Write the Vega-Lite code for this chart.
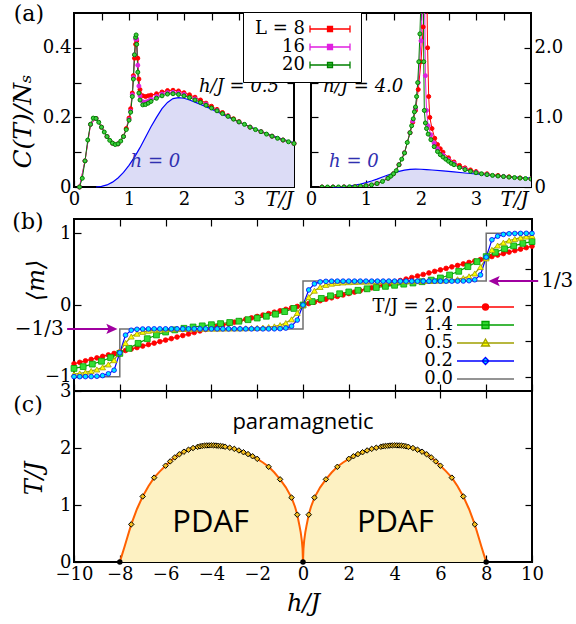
{
"$schema":"https://vega.github.io/schema/vega-lite/v6.json",
"background":"white",
"padding":{"left":9,"top":1,"right":0,"bottom":0},
"config":{
 "view":{"stroke":"black","strokeWidth":2},
 "axis":{"domain":false,"grid":false,"ticks":true,"tickSize":-7,"tickColor":"black","tickWidth":1.2,"labelFont":"DejaVu Serif","labelFontSize":18,"labelColor":"black","labelPadding":10,"labelFlush":false,"labelOverlap":false,"labelBound":false,"titleFont":"DejaVu Serif","titleFontStyle":"italic","titleFontWeight":"normal","titleColor":"black","titleFontSize":22},
 "legend":{"labelFont":"DejaVu Serif","labelFontSize":18,"labelColor":"black"},
 "text":{"font":"DejaVu Serif","fontSize":19,"color":"black"}
},
"datasets":{
 "h0":[{"T":0.4,"C":0},{"T":0.5,"C":0.002},{"T":0.6,"C":0.006},{"T":0.7,"C":0.014},{"T":0.8,"C":0.026},{"T":0.9,"C":0.042},{"T":1.0,"C":0.062},{"T":1.1,"C":0.086},{"T":1.2,"C":0.113},{"T":1.3,"C":0.143},{"T":1.4,"C":0.173},{"T":1.5,"C":0.2},{"T":1.6,"C":0.225},{"T":1.7,"C":0.243},{"T":1.8,"C":0.254},{"T":1.9,"C":0.257},{"T":2.0,"C":0.255},{"T":2.1,"C":0.25},{"T":2.2,"C":0.244},{"T":2.4,"C":0.231},{"T":2.6,"C":0.216},{"T":2.8,"C":0.201},{"T":3.0,"C":0.187},{"T":3.2,"C":0.173},{"T":3.4,"C":0.16},{"T":3.6,"C":0.148},{"T":3.8,"C":0.137},{"T":4.0,"C":0.127}],
 "a05":[
{"L":"8","T":0.1,"C":0},{"L":"8","T":0.2,"C":0.075},{"L":"8","T":0.3,"C":0.18},{"L":"8","T":0.4,"C":0.197},{"L":"8","T":0.5,"C":0.172},{"L":"8","T":0.6,"C":0.145},{"L":"8","T":0.7,"C":0.126},{"L":"8","T":0.8,"C":0.124},{"L":"8","T":0.9,"C":0.146},{"L":"8","T":0.95,"C":0.168},{"L":"8","T":1.0,"C":0.198},{"L":"8","T":1.03,"C":0.225},{"L":"8","T":1.06,"C":0.27},{"L":"8","T":1.08,"C":0.32},{"L":"8","T":1.1,"C":0.37},{"L":"8","T":1.12,"C":0.41},{"L":"8","T":1.14,"C":0.42},{"L":"8","T":1.16,"C":0.37},{"L":"8","T":1.18,"C":0.31},{"L":"8","T":1.2,"C":0.28},{"L":"8","T":1.25,"C":0.262},{"L":"8","T":1.3,"C":0.26},{"L":"8","T":1.35,"C":0.262},{"L":"8","T":1.4,"C":0.264},{"L":"8","T":1.5,"C":0.268},{"L":"8","T":1.6,"C":0.273},{"L":"8","T":1.7,"C":0.277},{"L":"8","T":1.8,"C":0.278},{"L":"8","T":1.9,"C":0.276},{"L":"8","T":2.0,"C":0.271},{"L":"8","T":2.1,"C":0.265},{"L":"8","T":2.2,"C":0.258},{"L":"8","T":2.3,"C":0.25},{"L":"8","T":2.4,"C":0.241},{"L":"8","T":2.5,"C":0.232},{"L":"8","T":2.6,"C":0.223},{"L":"8","T":2.7,"C":0.214},{"L":"8","T":2.8,"C":0.205},{"L":"8","T":2.9,"C":0.196},{"L":"8","T":3.0,"C":0.188},{"L":"8","T":3.2,"C":0.172},{"L":"8","T":3.4,"C":0.159},{"L":"8","T":3.6,"C":0.146},{"L":"8","T":3.8,"C":0.135},{"L":"8","T":4.0,"C":0.125},
{"L":"16","T":0.1,"C":0},{"L":"16","T":0.2,"C":0.075},{"L":"16","T":0.3,"C":0.18},{"L":"16","T":0.4,"C":0.197},{"L":"16","T":0.5,"C":0.172},{"L":"16","T":0.6,"C":0.145},{"L":"16","T":0.7,"C":0.126},{"L":"16","T":0.8,"C":0.124},{"L":"16","T":0.9,"C":0.145},{"L":"16","T":1.0,"C":0.194},{"L":"16","T":1.03,"C":0.218},{"L":"16","T":1.06,"C":0.265},{"L":"16","T":1.08,"C":0.315},{"L":"16","T":1.1,"C":0.38},{"L":"16","T":1.12,"C":0.425},{"L":"16","T":1.14,"C":0.425},{"L":"16","T":1.16,"C":0.35},{"L":"16","T":1.18,"C":0.29},{"L":"16","T":1.2,"C":0.262},{"L":"16","T":1.25,"C":0.245},{"L":"16","T":1.3,"C":0.244},{"L":"16","T":1.35,"C":0.247},{"L":"16","T":1.4,"C":0.252},{"L":"16","T":1.5,"C":0.26},{"L":"16","T":1.6,"C":0.267},{"L":"16","T":1.7,"C":0.271},{"L":"16","T":1.8,"C":0.272},{"L":"16","T":1.9,"C":0.27},{"L":"16","T":2.0,"C":0.266},{"L":"16","T":2.2,"C":0.253},{"L":"16","T":2.4,"C":0.238},{"L":"16","T":2.6,"C":0.22},{"L":"16","T":2.8,"C":0.204},{"L":"16","T":3.0,"C":0.187},{"L":"16","T":3.2,"C":0.172},{"L":"16","T":3.4,"C":0.159},{"L":"16","T":3.6,"C":0.146},{"L":"16","T":3.8,"C":0.135},{"L":"16","T":4.0,"C":0.125},
{"L":"20","T":0.1,"C":0},{"L":"20","T":0.15,"C":0.025},{"L":"20","T":0.2,"C":0.075},{"L":"20","T":0.25,"C":0.135},{"L":"20","T":0.3,"C":0.18},{"L":"20","T":0.35,"C":0.198},{"L":"20","T":0.4,"C":0.197},{"L":"20","T":0.45,"C":0.186},{"L":"20","T":0.5,"C":0.172},{"L":"20","T":0.55,"C":0.158},{"L":"20","T":0.6,"C":0.145},{"L":"20","T":0.65,"C":0.134},{"L":"20","T":0.7,"C":0.126},{"L":"20","T":0.75,"C":0.122},{"L":"20","T":0.8,"C":0.124},{"L":"20","T":0.85,"C":0.132},{"L":"20","T":0.9,"C":0.145},{"L":"20","T":0.95,"C":0.165},{"L":"20","T":1.0,"C":0.192},{"L":"20","T":1.03,"C":0.215},{"L":"20","T":1.06,"C":0.26},{"L":"20","T":1.08,"C":0.31},{"L":"20","T":1.1,"C":0.38},{"L":"20","T":1.12,"C":0.43},{"L":"20","T":1.13,"C":0.437},{"L":"20","T":1.14,"C":0.41},{"L":"20","T":1.16,"C":0.33},{"L":"20","T":1.18,"C":0.27},{"L":"20","T":1.2,"C":0.25},{"L":"20","T":1.25,"C":0.236},{"L":"20","T":1.3,"C":0.237},{"L":"20","T":1.35,"C":0.241},{"L":"20","T":1.4,"C":0.246},{"L":"20","T":1.5,"C":0.255},{"L":"20","T":1.6,"C":0.262},{"L":"20","T":1.7,"C":0.267},{"L":"20","T":1.8,"C":0.268},{"L":"20","T":1.9,"C":0.266},{"L":"20","T":2.0,"C":0.262},{"L":"20","T":2.1,"C":0.257},{"L":"20","T":2.2,"C":0.25},{"L":"20","T":2.3,"C":0.243},{"L":"20","T":2.4,"C":0.235},{"L":"20","T":2.5,"C":0.227},{"L":"20","T":2.6,"C":0.219},{"L":"20","T":2.7,"C":0.211},{"L":"20","T":2.8,"C":0.203},{"L":"20","T":2.9,"C":0.195},{"L":"20","T":3.0,"C":0.187},{"L":"20","T":3.1,"C":0.18},{"L":"20","T":3.2,"C":0.172},{"L":"20","T":3.3,"C":0.165},{"L":"20","T":3.4,"C":0.159},{"L":"20","T":3.5,"C":0.152},{"L":"20","T":3.6,"C":0.146},{"L":"20","T":3.7,"C":0.14},{"L":"20","T":3.8,"C":0.135},{"L":"20","T":3.9,"C":0.13},{"L":"20","T":4.0,"C":0.125}],
 "a40":[
{"L":"8","T":0.2,"C":0},{"L":"8","T":0.4,"C":0},{"L":"8","T":0.6,"C":0.001},{"L":"8","T":0.8,"C":0.005},{"L":"8","T":1.0,"C":0.018},{"L":"8","T":1.2,"C":0.05},{"L":"8","T":1.4,"C":0.125},{"L":"8","T":1.5,"C":0.19},{"L":"8","T":1.6,"C":0.32},{"L":"8","T":1.7,"C":0.49},{"L":"8","T":1.8,"C":0.78},{"L":"8","T":1.85,"C":0.93},{"L":"8","T":1.9,"C":1.1},{"L":"8","T":1.95,"C":1.4},{"L":"8","T":2.0,"C":1.8},{"L":"8","T":2.04,"C":2.3},{"L":"8","T":2.07,"C":2.8},{"L":"8","T":2.1,"C":3.2},{"L":"8","T":2.12,"C":2.0},{"L":"8","T":2.14,"C":1.3},{"L":"8","T":2.16,"C":1.0},{"L":"8","T":2.2,"C":0.84},{"L":"8","T":2.25,"C":0.7},{"L":"8","T":2.3,"C":0.61},{"L":"8","T":2.35,"C":0.55},{"L":"8","T":2.4,"C":0.5},{"L":"8","T":2.5,"C":0.42},{"L":"8","T":2.6,"C":0.36},{"L":"8","T":2.7,"C":0.31},{"L":"8","T":2.8,"C":0.275},{"L":"8","T":2.9,"C":0.245},{"L":"8","T":3.0,"C":0.222},{"L":"8","T":3.2,"C":0.19},{"L":"8","T":3.4,"C":0.166},{"L":"8","T":3.6,"C":0.147},{"L":"8","T":3.8,"C":0.131},{"L":"8","T":4.0,"C":0.118},
{"L":"16","T":0.2,"C":0},{"L":"16","T":0.4,"C":0},{"L":"16","T":0.6,"C":0.001},{"L":"16","T":0.8,"C":0.005},{"L":"16","T":1.0,"C":0.018},{"L":"16","T":1.2,"C":0.05},{"L":"16","T":1.4,"C":0.125},{"L":"16","T":1.5,"C":0.19},{"L":"16","T":1.6,"C":0.32},{"L":"16","T":1.7,"C":0.49},{"L":"16","T":1.8,"C":0.78},{"L":"16","T":1.85,"C":0.95},{"L":"16","T":1.9,"C":1.13},{"L":"16","T":1.95,"C":1.5},{"L":"16","T":2.0,"C":2.1},{"L":"16","T":2.03,"C":2.8},{"L":"16","T":2.06,"C":3.2},{"L":"16","T":2.08,"C":1.6},{"L":"16","T":2.1,"C":1.1},{"L":"16","T":2.13,"C":0.88},{"L":"16","T":2.18,"C":0.75},{"L":"16","T":2.24,"C":0.63},{"L":"16","T":2.3,"C":0.55},{"L":"16","T":2.4,"C":0.46},{"L":"16","T":2.5,"C":0.39},{"L":"16","T":2.6,"C":0.34},{"L":"16","T":2.8,"C":0.26},{"L":"16","T":3.0,"C":0.212},{"L":"16","T":3.2,"C":0.182},{"L":"16","T":3.5,"C":0.153},{"L":"16","T":4.0,"C":0.116},
{"L":"20","T":0.2,"C":0},{"L":"20","T":0.3,"C":0},{"L":"20","T":0.4,"C":0},{"L":"20","T":0.5,"C":0.0005},{"L":"20","T":0.6,"C":0.001},{"L":"20","T":0.7,"C":0.003},{"L":"20","T":0.8,"C":0.005},{"L":"20","T":0.9,"C":0.01},{"L":"20","T":1.0,"C":0.018},{"L":"20","T":1.1,"C":0.03},{"L":"20","T":1.2,"C":0.05},{"L":"20","T":1.3,"C":0.08},{"L":"20","T":1.4,"C":0.125},{"L":"20","T":1.45,"C":0.155},{"L":"20","T":1.5,"C":0.19},{"L":"20","T":1.55,"C":0.235},{"L":"20","T":1.6,"C":0.32},{"L":"20","T":1.65,"C":0.4},{"L":"20","T":1.7,"C":0.49},{"L":"20","T":1.75,"C":0.64},{"L":"20","T":1.8,"C":0.78},{"L":"20","T":1.83,"C":0.88},{"L":"20","T":1.86,"C":0.98},{"L":"20","T":1.88,"C":1.08},{"L":"20","T":1.9,"C":1.15},{"L":"20","T":1.92,"C":1.3},{"L":"20","T":1.94,"C":1.5},{"L":"20","T":1.96,"C":1.8},{"L":"20","T":1.98,"C":2.2},{"L":"20","T":2.0,"C":2.7},{"L":"20","T":2.02,"C":3.2},{"L":"20","T":2.04,"C":3.0},{"L":"20","T":2.05,"C":1.8},{"L":"20","T":2.06,"C":1.1},{"L":"20","T":2.08,"C":0.92},{"L":"20","T":2.1,"C":0.84},{"L":"20","T":2.13,"C":0.76},{"L":"20","T":2.18,"C":0.68},{"L":"20","T":2.24,"C":0.58},{"L":"20","T":2.3,"C":0.51},{"L":"20","T":2.35,"C":0.465},{"L":"20","T":2.4,"C":0.43},{"L":"20","T":2.45,"C":0.4},{"L":"20","T":2.5,"C":0.37},{"L":"20","T":2.55,"C":0.34},{"L":"20","T":2.6,"C":0.32},{"L":"20","T":2.7,"C":0.28},{"L":"20","T":2.8,"C":0.25},{"L":"20","T":2.9,"C":0.225},{"L":"20","T":3.0,"C":0.205},{"L":"20","T":3.1,"C":0.19},{"L":"20","T":3.2,"C":0.178},{"L":"20","T":3.3,"C":0.167},{"L":"20","T":3.4,"C":0.158},{"L":"20","T":3.5,"C":0.15},{"L":"20","T":3.6,"C":0.142},{"L":"20","T":3.7,"C":0.135},{"L":"20","T":3.8,"C":0.128},{"L":"20","T":3.9,"C":0.121},{"L":"20","T":4.0,"C":0.115}],
 "b":[
{"s":"2.0","h":-10,"m":-0.82},{"s":"2.0","h":-9.75,"m":-0.8},{"s":"2.0","h":-9.5,"m":-0.779},{"s":"2.0","h":-9.25,"m":-0.759},{"s":"2.0","h":-9,"m":-0.738},{"s":"2.0","h":-8.75,"m":-0.717},{"s":"2.0","h":-8.5,"m":-0.697},{"s":"2.0","h":-8.25,"m":-0.676},{"s":"2.0","h":-8,"m":-0.655},{"s":"2.0","h":-7.75,"m":-0.635},{"s":"2.0","h":-7.5,"m":-0.614},{"s":"2.0","h":-7.25,"m":-0.594},{"s":"2.0","h":-7,"m":-0.573},{"s":"2.0","h":-6.75,"m":-0.552},{"s":"2.0","h":-6.5,"m":-0.532},{"s":"2.0","h":-6.25,"m":-0.511},{"s":"2.0","h":-6,"m":-0.49},{"s":"2.0","h":-5.75,"m":-0.469},{"s":"2.0","h":-5.5,"m":-0.447},{"s":"2.0","h":-5.25,"m":-0.426},{"s":"2.0","h":-5,"m":-0.405},{"s":"2.0","h":-4.75,"m":-0.384},{"s":"2.0","h":-4.5,"m":-0.362},{"s":"2.0","h":-4.25,"m":-0.341},{"s":"2.0","h":-4,"m":-0.32},{"s":"2.0","h":-3.75,"m":-0.3},{"s":"2.0","h":-3.5,"m":-0.28},{"s":"2.0","h":-3.25,"m":-0.26},{"s":"2.0","h":-3,"m":-0.24},{"s":"2.0","h":-2.75,"m":-0.22},{"s":"2.0","h":-2.5,"m":-0.2},{"s":"2.0","h":-2.25,"m":-0.18},{"s":"2.0","h":-2,"m":-0.16},{"s":"2.0","h":-1.75,"m":-0.14},{"s":"2.0","h":-1.5,"m":-0.12},{"s":"2.0","h":-1.25,"m":-0.1},{"s":"2.0","h":-1,"m":-0.08},{"s":"2.0","h":-0.75,"m":-0.06},{"s":"2.0","h":-0.5,"m":-0.04},{"s":"2.0","h":-0.25,"m":-0.02},{"s":"2.0","h":0,"m":0},{"s":"2.0","h":0.25,"m":0.02},{"s":"2.0","h":0.5,"m":0.04},{"s":"2.0","h":0.75,"m":0.06},{"s":"2.0","h":1,"m":0.08},{"s":"2.0","h":1.25,"m":0.1},{"s":"2.0","h":1.5,"m":0.12},{"s":"2.0","h":1.75,"m":0.14},{"s":"2.0","h":2,"m":0.16},{"s":"2.0","h":2.25,"m":0.18},{"s":"2.0","h":2.5,"m":0.2},{"s":"2.0","h":2.75,"m":0.22},{"s":"2.0","h":3,"m":0.24},{"s":"2.0","h":3.25,"m":0.26},{"s":"2.0","h":3.5,"m":0.28},{"s":"2.0","h":3.75,"m":0.3},{"s":"2.0","h":4,"m":0.32},{"s":"2.0","h":4.25,"m":0.341},{"s":"2.0","h":4.5,"m":0.362},{"s":"2.0","h":4.75,"m":0.384},{"s":"2.0","h":5,"m":0.405},{"s":"2.0","h":5.25,"m":0.426},{"s":"2.0","h":5.5,"m":0.447},{"s":"2.0","h":5.75,"m":0.469},{"s":"2.0","h":6,"m":0.49},{"s":"2.0","h":6.25,"m":0.511},{"s":"2.0","h":6.5,"m":0.532},{"s":"2.0","h":6.75,"m":0.552},{"s":"2.0","h":7,"m":0.573},{"s":"2.0","h":7.25,"m":0.594},{"s":"2.0","h":7.5,"m":0.614},{"s":"2.0","h":7.75,"m":0.635},{"s":"2.0","h":8,"m":0.655},{"s":"2.0","h":8.25,"m":0.676},{"s":"2.0","h":8.5,"m":0.697},{"s":"2.0","h":8.75,"m":0.717},{"s":"2.0","h":9,"m":0.738},{"s":"2.0","h":9.25,"m":0.759},{"s":"2.0","h":9.5,"m":0.779},{"s":"2.0","h":9.75,"m":0.8},{"s":"2.0","h":10,"m":0.82},
{"s":"1.4","h":-10,"m":-0.885},{"s":"1.4","h":-9.6,"m":-0.86},{"s":"1.4","h":-9.2,"m":-0.825},{"s":"1.4","h":-8.8,"m":-0.785},{"s":"1.4","h":-8.4,"m":-0.735},{"s":"1.4","h":-8,"m":-0.675},{"s":"1.4","h":-7.6,"m":-0.605},{"s":"1.4","h":-7.2,"m":-0.535},{"s":"1.4","h":-6.8,"m":-0.47},{"s":"1.4","h":-6.4,"m":-0.418},{"s":"1.4","h":-6,"m":-0.377},{"s":"1.4","h":-5.6,"m":-0.347},{"s":"1.4","h":-5.2,"m":-0.325},{"s":"1.4","h":-4.8,"m":-0.307},{"s":"1.4","h":-4.4,"m":-0.291},{"s":"1.4","h":-4,"m":-0.275},{"s":"1.4","h":-3.6,"m":-0.26},{"s":"1.4","h":-3.2,"m":-0.244},{"s":"1.4","h":-2.8,"m":-0.226},{"s":"1.4","h":-2.4,"m":-0.205},{"s":"1.4","h":-2,"m":-0.182},{"s":"1.4","h":-1.6,"m":-0.157},{"s":"1.4","h":-1.2,"m":-0.128},{"s":"1.4","h":-0.8,"m":-0.092},{"s":"1.4","h":-0.4,"m":-0.048},{"s":"1.4","h":0,"m":0},{"s":"1.4","h":0.4,"m":0.048},{"s":"1.4","h":0.8,"m":0.092},{"s":"1.4","h":1.2,"m":0.128},{"s":"1.4","h":1.6,"m":0.157},{"s":"1.4","h":2,"m":0.182},{"s":"1.4","h":2.4,"m":0.205},{"s":"1.4","h":2.8,"m":0.226},{"s":"1.4","h":3.2,"m":0.244},{"s":"1.4","h":3.6,"m":0.26},{"s":"1.4","h":4,"m":0.275},{"s":"1.4","h":4.4,"m":0.291},{"s":"1.4","h":4.8,"m":0.307},{"s":"1.4","h":5.2,"m":0.325},{"s":"1.4","h":5.6,"m":0.347},{"s":"1.4","h":6,"m":0.377},{"s":"1.4","h":6.4,"m":0.418},{"s":"1.4","h":6.8,"m":0.47},{"s":"1.4","h":7.2,"m":0.535},{"s":"1.4","h":7.6,"m":0.605},{"s":"1.4","h":8,"m":0.675},{"s":"1.4","h":8.4,"m":0.735},{"s":"1.4","h":8.8,"m":0.785},{"s":"1.4","h":9.2,"m":0.825},{"s":"1.4","h":9.6,"m":0.86},{"s":"1.4","h":10,"m":0.885},
{"s":"0.5","h":-10,"m":-0.965},{"s":"0.5","h":-9.75,"m":-0.955},{"s":"0.5","h":-9.5,"m":-0.94},{"s":"0.5","h":-9.25,"m":-0.92},{"s":"0.5","h":-9,"m":-0.9},{"s":"0.5","h":-8.75,"m":-0.87},{"s":"0.5","h":-8.5,"m":-0.83},{"s":"0.5","h":-8.25,"m":-0.77},{"s":"0.5","h":-8,"m":-0.65},{"s":"0.5","h":-7.75,"m":-0.53},{"s":"0.5","h":-7.5,"m":-0.44},{"s":"0.5","h":-7.25,"m":-0.4},{"s":"0.5","h":-7,"m":-0.375},{"s":"0.5","h":-6.75,"m":-0.36},{"s":"0.5","h":-6.5,"m":-0.35},{"s":"0.5","h":-6.25,"m":-0.344},{"s":"0.5","h":-6,"m":-0.34},{"s":"0.5","h":-5.75,"m":-0.337},{"s":"0.5","h":-5.5,"m":-0.335},{"s":"0.5","h":-5.25,"m":-0.334},{"s":"0.5","h":-5,"m":-0.333},{"s":"0.5","h":-4.75,"m":-0.332},{"s":"0.5","h":-4.5,"m":-0.331},{"s":"0.5","h":-4.25,"m":-0.331},{"s":"0.5","h":-4,"m":-0.33},{"s":"0.5","h":-3.75,"m":-0.33},{"s":"0.5","h":-3.5,"m":-0.329},{"s":"0.5","h":-3.25,"m":-0.328},{"s":"0.5","h":-3,"m":-0.327},{"s":"0.5","h":-2.75,"m":-0.326},{"s":"0.5","h":-2.5,"m":-0.324},{"s":"0.5","h":-2.25,"m":-0.322},{"s":"0.5","h":-2,"m":-0.319},{"s":"0.5","h":-1.75,"m":-0.315},{"s":"0.5","h":-1.5,"m":-0.308},{"s":"0.5","h":-1.25,"m":-0.298},{"s":"0.5","h":-1,"m":-0.281},{"s":"0.5","h":-0.75,"m":-0.252},{"s":"0.5","h":-0.5,"m":-0.2},{"s":"0.5","h":-0.25,"m":-0.11},{"s":"0.5","h":0,"m":0},{"s":"0.5","h":0.25,"m":0.11},{"s":"0.5","h":0.5,"m":0.2},{"s":"0.5","h":0.75,"m":0.252},{"s":"0.5","h":1,"m":0.281},{"s":"0.5","h":1.25,"m":0.298},{"s":"0.5","h":1.5,"m":0.308},{"s":"0.5","h":1.75,"m":0.315},{"s":"0.5","h":2,"m":0.319},{"s":"0.5","h":2.25,"m":0.322},{"s":"0.5","h":2.5,"m":0.324},{"s":"0.5","h":2.75,"m":0.326},{"s":"0.5","h":3,"m":0.327},{"s":"0.5","h":3.25,"m":0.328},{"s":"0.5","h":3.5,"m":0.329},{"s":"0.5","h":3.75,"m":0.33},{"s":"0.5","h":4,"m":0.33},{"s":"0.5","h":4.25,"m":0.331},{"s":"0.5","h":4.5,"m":0.331},{"s":"0.5","h":4.75,"m":0.332},{"s":"0.5","h":5,"m":0.333},{"s":"0.5","h":5.25,"m":0.334},{"s":"0.5","h":5.5,"m":0.335},{"s":"0.5","h":5.75,"m":0.337},{"s":"0.5","h":6,"m":0.34},{"s":"0.5","h":6.25,"m":0.344},{"s":"0.5","h":6.5,"m":0.35},{"s":"0.5","h":6.75,"m":0.36},{"s":"0.5","h":7,"m":0.375},{"s":"0.5","h":7.25,"m":0.4},{"s":"0.5","h":7.5,"m":0.44},{"s":"0.5","h":7.75,"m":0.53},{"s":"0.5","h":8,"m":0.65},{"s":"0.5","h":8.25,"m":0.77},{"s":"0.5","h":8.5,"m":0.83},{"s":"0.5","h":8.75,"m":0.87},{"s":"0.5","h":9,"m":0.9},{"s":"0.5","h":9.25,"m":0.92},{"s":"0.5","h":9.5,"m":0.94},{"s":"0.5","h":9.75,"m":0.955},{"s":"0.5","h":10,"m":0.965},
{"s":"0.2","h":-10,"m":-1},{"s":"0.2","h":-9.75,"m":-1},{"s":"0.2","h":-9.5,"m":-0.999},{"s":"0.2","h":-9.25,"m":-0.998},{"s":"0.2","h":-9,"m":-0.994},{"s":"0.2","h":-8.75,"m":-0.985},{"s":"0.2","h":-8.5,"m":-0.96},{"s":"0.2","h":-8.25,"m":-0.91},{"s":"0.2","h":-8,"m":-0.667},{"s":"0.2","h":-7.75,"m":-0.42},{"s":"0.2","h":-7.5,"m":-0.352},{"s":"0.2","h":-7.25,"m":-0.339},{"s":"0.2","h":-7,"m":-0.335},{"s":"0.2","h":-6.75,"m":-0.334},{"s":"0.2","h":-6.5,"m":-0.333},{"s":"0.2","h":-6.25,"m":-0.333},{"s":"0.2","h":-6,"m":-0.333},{"s":"0.2","h":-5.75,"m":-0.333},{"s":"0.2","h":-5.5,"m":-0.333},{"s":"0.2","h":-5.25,"m":-0.333},{"s":"0.2","h":-5,"m":-0.333},{"s":"0.2","h":-4.75,"m":-0.333},{"s":"0.2","h":-4.5,"m":-0.333},{"s":"0.2","h":-4.25,"m":-0.333},{"s":"0.2","h":-4,"m":-0.333},{"s":"0.2","h":-3.75,"m":-0.333},{"s":"0.2","h":-3.5,"m":-0.333},{"s":"0.2","h":-3.25,"m":-0.333},{"s":"0.2","h":-3,"m":-0.333},{"s":"0.2","h":-2.75,"m":-0.333},{"s":"0.2","h":-2.5,"m":-0.333},{"s":"0.2","h":-2.25,"m":-0.333},{"s":"0.2","h":-2,"m":-0.333},{"s":"0.2","h":-1.75,"m":-0.333},{"s":"0.2","h":-1.5,"m":-0.333},{"s":"0.2","h":-1.25,"m":-0.332},{"s":"0.2","h":-1,"m":-0.33},{"s":"0.2","h":-0.75,"m":-0.322},{"s":"0.2","h":-0.5,"m":-0.295},{"s":"0.2","h":-0.25,"m":-0.21},{"s":"0.2","h":0,"m":0},{"s":"0.2","h":0.25,"m":0.21},{"s":"0.2","h":0.5,"m":0.295},{"s":"0.2","h":0.75,"m":0.322},{"s":"0.2","h":1,"m":0.33},{"s":"0.2","h":1.25,"m":0.332},{"s":"0.2","h":1.5,"m":0.333},{"s":"0.2","h":1.75,"m":0.333},{"s":"0.2","h":2,"m":0.333},{"s":"0.2","h":2.25,"m":0.333},{"s":"0.2","h":2.5,"m":0.333},{"s":"0.2","h":2.75,"m":0.333},{"s":"0.2","h":3,"m":0.333},{"s":"0.2","h":3.25,"m":0.333},{"s":"0.2","h":3.5,"m":0.333},{"s":"0.2","h":3.75,"m":0.333},{"s":"0.2","h":4,"m":0.333},{"s":"0.2","h":4.25,"m":0.333},{"s":"0.2","h":4.5,"m":0.333},{"s":"0.2","h":4.75,"m":0.333},{"s":"0.2","h":5,"m":0.333},{"s":"0.2","h":5.25,"m":0.333},{"s":"0.2","h":5.5,"m":0.333},{"s":"0.2","h":5.75,"m":0.333},{"s":"0.2","h":6,"m":0.333},{"s":"0.2","h":6.25,"m":0.333},{"s":"0.2","h":6.5,"m":0.333},{"s":"0.2","h":6.75,"m":0.334},{"s":"0.2","h":7,"m":0.335},{"s":"0.2","h":7.25,"m":0.339},{"s":"0.2","h":7.5,"m":0.352},{"s":"0.2","h":7.75,"m":0.42},{"s":"0.2","h":8,"m":0.667},{"s":"0.2","h":8.25,"m":0.91},{"s":"0.2","h":8.5,"m":0.96},{"s":"0.2","h":8.75,"m":0.985},{"s":"0.2","h":9,"m":0.994},{"s":"0.2","h":9.25,"m":0.998},{"s":"0.2","h":9.5,"m":0.999},{"s":"0.2","h":9.75,"m":1},{"s":"0.2","h":10,"m":1},
{"s":"0.0","h":-10,"m":-1},{"s":"0.0","h":-8,"m":-0.3333},{"s":"0.0","h":0,"m":0.3333},{"s":"0.0","h":8,"m":1},{"s":"0.0","h":10,"m":1}],
 "cb":[{"h":-8,"T":0},{"h":-7.9,"T":0.13},{"h":-7.8,"T":0.26},{"h":-7.65,"T":0.46},{"h":-7.5,"T":0.66},{"h":-7.25,"T":0.93},{"h":-7,"T":1.15},{"h":-6.75,"T":1.33},{"h":-6.5,"T":1.48},{"h":-6.25,"T":1.59},{"h":-6,"T":1.69},{"h":-5.75,"T":1.785},{"h":-5.5,"T":1.865},{"h":-5.25,"T":1.925},{"h":-5,"T":1.97},{"h":-4.75,"T":2.005},{"h":-4.5,"T":2.03},{"h":-4.25,"T":2.044},{"h":-4,"T":2.047},{"h":-3.75,"T":2.042},{"h":-3.5,"T":2.03},{"h":-3.25,"T":2.01},{"h":-3,"T":1.985},{"h":-2.75,"T":1.95},{"h":-2.5,"T":1.91},{"h":-2.25,"T":1.865},{"h":-2,"T":1.81},{"h":-1.75,"T":1.745},{"h":-1.5,"T":1.67},{"h":-1.25,"T":1.57},{"h":-1,"T":1.45},{"h":-0.75,"T":1.31},{"h":-0.5,"T":1.13},{"h":-0.35,"T":0.97},{"h":-0.25,"T":0.83},{"h":-0.15,"T":0.63},{"h":-0.1,"T":0.52},{"h":-0.05,"T":0.37},{"h":-0.02,"T":0.23},{"h":0,"T":0},{"h":0.02,"T":0.23},{"h":0.05,"T":0.37},{"h":0.1,"T":0.52},{"h":0.15,"T":0.63},{"h":0.25,"T":0.83},{"h":0.35,"T":0.97},{"h":0.5,"T":1.13},{"h":0.75,"T":1.31},{"h":1,"T":1.45},{"h":1.25,"T":1.57},{"h":1.5,"T":1.67},{"h":1.75,"T":1.745},{"h":2,"T":1.81},{"h":2.25,"T":1.865},{"h":2.5,"T":1.91},{"h":2.75,"T":1.95},{"h":3,"T":1.985},{"h":3.25,"T":2.01},{"h":3.5,"T":2.03},{"h":3.75,"T":2.042},{"h":4,"T":2.047},{"h":4.25,"T":2.044},{"h":4.5,"T":2.03},{"h":4.75,"T":2.005},{"h":5,"T":1.97},{"h":5.25,"T":1.925},{"h":5.5,"T":1.865},{"h":5.75,"T":1.785},{"h":6,"T":1.69},{"h":6.25,"T":1.59},{"h":6.5,"T":1.48},{"h":6.75,"T":1.33},{"h":7,"T":1.15},{"h":7.25,"T":0.93},{"h":7.5,"T":0.66},{"h":7.65,"T":0.46},{"h":7.8,"T":0.26},{"h":7.9,"T":0.13},{"h":8,"T":0}],
 "cm":[{"h":-7.5,"T":0.66},{"h":-7,"T":1.15},{"h":-6.5,"T":1.48},{"h":-6,"T":1.69},{"h":-5.8,"T":1.765},{"h":-5.6,"T":1.835},{"h":-5.4,"T":1.89},{"h":-5.2,"T":1.935},{"h":-5,"T":1.97},{"h":-4.8,"T":2.0},{"h":-4.6,"T":2.02},{"h":-4.5,"T":2.03},{"h":-4.4,"T":2.037},{"h":-4.3,"T":2.042},{"h":-4.2,"T":2.045},{"h":-4.1,"T":2.046},{"h":-4,"T":2.047},{"h":-3.9,"T":2.046},{"h":-3.8,"T":2.043},{"h":-3.7,"T":2.04},{"h":-3.6,"T":2.035},{"h":-3.5,"T":2.03},{"h":-3.4,"T":2.022},{"h":-3.2,"T":2.005},{"h":-3,"T":1.985},{"h":-2.8,"T":1.957},{"h":-2.6,"T":1.926},{"h":-2.4,"T":1.893},{"h":-2.2,"T":1.855},{"h":-2,"T":1.81},{"h":-1.5,"T":1.67},{"h":-1,"T":1.45},{"h":-0.5,"T":1.13},{"h":-0.25,"T":0.83},{"h":0.25,"T":0.83},{"h":0.5,"T":1.13},{"h":1,"T":1.45},{"h":1.5,"T":1.67},{"h":2,"T":1.81},{"h":2.2,"T":1.855},{"h":2.4,"T":1.893},{"h":2.6,"T":1.926},{"h":2.8,"T":1.957},{"h":3,"T":1.985},{"h":3.2,"T":2.005},{"h":3.4,"T":2.022},{"h":3.5,"T":2.03},{"h":3.6,"T":2.035},{"h":3.7,"T":2.04},{"h":3.8,"T":2.043},{"h":3.9,"T":2.046},{"h":4,"T":2.047},{"h":4.1,"T":2.046},{"h":4.2,"T":2.045},{"h":4.3,"T":2.042},{"h":4.4,"T":2.037},{"h":4.5,"T":2.03},{"h":4.6,"T":2.02},{"h":4.8,"T":2.0},{"h":5,"T":1.97},{"h":5.2,"T":1.935},{"h":5.4,"T":1.89},{"h":5.6,"T":1.835},{"h":5.8,"T":1.765},{"h":6,"T":1.69},{"h":6.5,"T":1.48},{"h":7,"T":1.15},{"h":7.5,"T":0.66}],
 "cz":[{"h":-8,"T":0},{"h":0,"T":0},{"h":8,"T":0}]
},
"vconcat":[
 {
  "hconcat":[
   {
    "width":220,"height":174,
    "layer":[
     {"layer":[
      {"data":{"name":"h0"},"mark":{"type":"area","color":"#dcdcf6"},
       "encoding":{
        "x":{"field":"T","type":"quantitative","scale":{"domain":[0,4],"nice":false,"zero":false},
             "axis":{"orient":"bottom","values":[0,0.5,1,1.5,2,2.5,3,3.5],"format":"d","labelExpr":"datum.value % 1 == 0 ? datum.label : ''","title":"T/J","titleX":219,"titleY":2,"titleAlign":"right","titleBaseline":"top","titleAngle":0,"titleFontSize":20}},
        "y":{"field":"C","type":"quantitative","scale":{"domain":[0,0.5],"nice":false},
             "axis":{"orient":"left","values":[0,0.1,0.2,0.3,0.4],"labelExpr":"datum.value == 0 ? '0' : (datum.value == 0.2 || datum.value == 0.4 ? format(datum.value, '.1f') : '')","title":"C(T)/Nₛ","titleX":-52,"titleY":108,"titleAlign":"center","titleBaseline":"middle","titleAngle":-90,"titleFontSize":25}}}},
      {"data":{"name":"h0"},"mark":{"type":"line","color":"#0000ff","strokeWidth":1.2},
       "encoding":{"x":{"field":"T","type":"quantitative"},"y":{"field":"C","type":"quantitative"}}},
      {"data":{"name":"a05"},"mark":{"type":"line","strokeWidth":1},
       "encoding":{"x":{"field":"T","type":"quantitative"},"y":{"field":"C","type":"quantitative"},
        "stroke":{"field":"L","type":"nominal","scale":{"domain":["8","16","20"],"range":["#ff0000","#e020e0","#008000"]},"legend":null}}},
      {"data":{"name":"a05"},"mark":{"type":"point","filled":true,"opacity":1,"size":16,"strokeWidth":1},
       "encoding":{"x":{"field":"T","type":"quantitative"},"y":{"field":"C","type":"quantitative"},
        "fill":{"field":"L","type":"nominal","scale":{"domain":["8","16","20"],"range":["#ff0000","#e020e0","#3fd03f"]},"legend":null},
        "stroke":{"field":"L","type":"nominal","legend":null}}},
      {"data":{"values":[{}]},"mark":{"type":"text","text":"h/J = 0.5","fontStyle":"italic","fontSize":18,"align":"center","baseline":"middle"},
       "encoding":{"x":{"datum":3.0},"y":{"datum":0.288}}},
      {"data":{"values":[{}]},"mark":{"type":"text","text":"h = 0","fontStyle":"italic","fontSize":18,"color":"#3030b0","align":"center","baseline":"middle"},
       "encoding":{"x":{"datum":1.48},"y":{"datum":0.072}}},
      {"data":{"values":[{}]},"mark":{"type":"text","text":"(a)","fontSize":22,"align":"center","baseline":"middle"},
       "encoding":{"x":{"datum":-0.82},"y":{"datum":0.498}}}
     ]},
     {"data":{"name":"h0"},"mark":{"type":"point","opacity":0},
      "encoding":{
       "x":{"field":"T","type":"quantitative","scale":{"domain":[0,4],"nice":false,"zero":false},"axis":{"orient":"top","values":[0.5,1,1.5,2,2.5,3,3.5],"labels":false,"title":null}},
       "y":{"field":"C","type":"quantitative","scale":{"domain":[0,0.5],"nice":false},"axis":{"orient":"right","values":[0.1,0.2,0.3,0.4],"labels":false,"title":null}}}}
    ],
    "resolve":{"axis":{"x":"independent","y":"independent"}}
   },
   {
    "width":220,"height":174,
    "layer":[
     {"layer":[
      {"data":{"name":"h0"},"mark":{"type":"area","color":"#dcdcf6"},
       "encoding":{
        "x":{"field":"T","type":"quantitative","scale":{"domain":[0,4],"nice":false,"zero":false},
             "axis":{"orient":"bottom","values":[0,0.5,1,1.5,2,2.5,3,3.5],"format":"d","labelExpr":"datum.value % 1 == 0 ? datum.label : ''","title":"T/J","titleX":217,"titleY":2,"titleAlign":"right","titleBaseline":"top","titleAngle":0,"titleFontSize":20}},
        "y":{"field":"C","type":"quantitative","scale":{"domain":[0,2.5],"nice":false},
             "axis":{"orient":"right","values":[0,0.5,1,1.5,2],"labelExpr":"datum.value == 0 ? '0' : (datum.value == 1 || datum.value == 2 ? format(datum.value, '.1f') : '')","title":null}}}},
      {"data":{"name":"h0"},"mark":{"type":"line","color":"#0000ff","strokeWidth":1.2},
       "encoding":{"x":{"field":"T","type":"quantitative"},"y":{"field":"C","type":"quantitative"}}},
      {"data":{"name":"a40"},"mark":{"type":"line","strokeWidth":1,"clip":true},
       "encoding":{"x":{"field":"T","type":"quantitative"},"y":{"field":"C","type":"quantitative"},
        "stroke":{"field":"L","type":"nominal","scale":{"domain":["8","16","20"],"range":["#ff0000","#e020e0","#008000"]}}}},
      {"data":{"name":"a40"},"mark":{"type":"point","filled":true,"opacity":1,"size":16,"strokeWidth":1,"clip":true},
       "encoding":{"x":{"field":"T","type":"quantitative"},"y":{"field":"C","type":"quantitative"},
        "fill":{"field":"L","type":"nominal","scale":{"domain":["8","16","20"],"range":["#ff0000","#e020e0","#3fd03f"]}},
        "stroke":{"field":"L","type":"nominal"}}},
      {"data":{"values":[{}]},"mark":{"type":"text","text":"h/J = 4.0","fontStyle":"italic","fontSize":18,"align":"center","baseline":"middle"},
       "encoding":{"x":{"datum":0.95},"y":{"datum":1.44}}},
      {"data":{"values":[{}]},"mark":{"type":"text","text":"h = 0","fontStyle":"italic","fontSize":18,"color":"#3030b0","align":"center","baseline":"middle"},
       "encoding":{"x":{"datum":0.78},"y":{"datum":0.36}}},
      {"data":{"name":"a40"},"transform":[{"filter":"false"}],"mark":{"type":"point","filled":true,"opacity":1},
       "encoding":{
        "shape":{"field":"L","type":"nominal","scale":{"domain":["8","16","20"],"range":["M10,0H18M10,-0.7V0.7M18,-0.7V0.7M13.5,-0.5H14.5V0.5H13.5Z","M10,0H18M10,-0.7V0.7M18,-0.7V0.7M13.5,-0.5H14.5V0.5H13.5Z","M10,0H18M10,-0.7V0.7M18,-0.7V0.7M13.5,-0.5H14.5V0.5H13.5Z"]},
          "legend":{"orient":"none","legendX":-68,"legendY":-1,"title":null,"labelExpr":"datum.label == '8' ? 'L = 8' : datum.label","labelAlign":"right","labelOffset":36,"symbolSize":100,"symbolStrokeWidth":1.3,"padding":8,"rowPadding":-1,"strokeColor":"black","fillColor":"white"}},
        "fill":{"field":"L","type":"nominal","legend":{"orient":"none","legendX":-68,"legendY":-1,"title":null,"labelExpr":"datum.label == '8' ? 'L = 8' : datum.label","labelAlign":"right","labelOffset":36,"symbolSize":100,"symbolStrokeWidth":1.3,"padding":8,"rowPadding":-1,"strokeColor":"black","fillColor":"white"}},
        "stroke":{"field":"L","type":"nominal","legend":{"orient":"none","legendX":-68,"legendY":-1,"title":null,"labelExpr":"datum.label == '8' ? 'L = 8' : datum.label","labelAlign":"right","labelOffset":36,"symbolSize":100,"symbolStrokeWidth":1.3,"padding":8,"rowPadding":-1,"strokeColor":"black","fillColor":"white"}}}}
     ]},
     {"data":{"name":"h0"},"mark":{"type":"point","opacity":0},
      "encoding":{
       "x":{"field":"T","type":"quantitative","scale":{"domain":[0,4],"nice":false,"zero":false},"axis":{"orient":"top","values":[0.5,1,1.5,2,2.5,3,3.5],"labels":false,"title":null}},
       "y":{"field":"C","type":"quantitative","scale":{"domain":[0,2.5],"nice":false},"axis":{"orient":"left","values":[0.5,1,1.5,2],"labels":false,"title":null}}}}
    ],
    "resolve":{"axis":{"x":"independent","y":"independent"}}
   }
  ],
  "spacing":17,"bounds":"flush",
  "resolve":{"scale":{"stroke":"independent","fill":"independent","shape":"independent"},"legend":{"stroke":"independent","fill":"independent","shape":"independent"}}
 },
 {
  "vconcat":[
   {
    "width":458,"height":172,
    "layer":[
     {"layer":[
      {"data":{"name":"b"},"transform":[{"filter":"datum.s != '0.0'"}],"mark":{"type":"line","strokeWidth":1.2},
       "encoding":{
        "x":{"field":"h","type":"quantitative","scale":{"domain":[-10,10],"nice":false},"axis":{"orient":"bottom","values":[-10,-8,-6,-4,-2,0,2,4,6,8,10],"labels":false,"title":null}},
        "y":{"field":"m","type":"quantitative","scale":{"domain":[-1.2,1.2],"nice":false},"axis":{"orient":"left","values":[-1,-0.5,0,0.5,1],"format":"d","labelExpr":"datum.value == -1 || datum.value == 0 || datum.value == 1 ? datum.label : ''","title":"⟨m⟩","titleX":-38,"titleY":61,"titleAlign":"center","titleBaseline":"middle","titleAngle":-90,"titleFontSize":24}},
        "stroke":{"field":"s","type":"nominal","scale":{"domain":["2.0","1.4","0.5","0.2","0.0"],"range":["#ff0000","#00a000","#a0a000","#0000ff","#707070"]}}}},
      {"data":{"name":"b"},"transform":[{"filter":"datum.s == '0.0'"}],"mark":{"type":"line","strokeWidth":1.5,"interpolate":"step-after"},
       "encoding":{"x":{"field":"h","type":"quantitative"},"y":{"field":"m","type":"quantitative"},"stroke":{"field":"s","type":"nominal"}}},
      {"data":{"name":"b"},"transform":[{"filter":"datum.s == '2.0'"}],"mark":{"type":"point","shape":"circle","filled":true,"opacity":1,"size":22,"strokeWidth":0.8},
       "encoding":{"x":{"field":"h","type":"quantitative"},"y":{"field":"m","type":"quantitative"},
        "fill":{"field":"s","type":"nominal","scale":{"domain":["2.0","1.4","0.5","0.2","0.0"],"range":["#ff0000","#33dd33","#ffff00","#00e5ff","#707070"]}},
        "stroke":{"field":"s","type":"nominal"}}},
      {"data":{"name":"b"},"transform":[{"filter":"datum.s == '1.4'"}],"mark":{"type":"point","shape":"square","filled":true,"opacity":1,"size":34,"strokeWidth":0.8},
       "encoding":{"x":{"field":"h","type":"quantitative"},"y":{"field":"m","type":"quantitative"},
        "fill":{"field":"s","type":"nominal"},"stroke":{"field":"s","type":"nominal"}}},
      {"data":{"name":"b"},"transform":[{"filter":"datum.s == '0.5'"}],"mark":{"type":"point","shape":"triangle-up","filled":true,"opacity":1,"size":34,"strokeWidth":0.8},
       "encoding":{"x":{"field":"h","type":"quantitative"},"y":{"field":"m","type":"quantitative"},
        "fill":{"field":"s","type":"nominal"},"stroke":{"field":"s","type":"nominal"}}},
      {"data":{"name":"b"},"transform":[{"filter":"datum.s == '0.2'"}],"mark":{"type":"point","shape":"circle","filled":true,"opacity":1,"size":22,"strokeWidth":0.8},
       "encoding":{"x":{"field":"h","type":"quantitative"},"y":{"field":"m","type":"quantitative"},
        "fill":{"field":"s","type":"nominal"},"stroke":{"field":"s","type":"nominal"}}},
      {"data":{"name":"b"},"transform":[{"filter":"false"}],"mark":{"type":"point","filled":true,"opacity":1},
       "encoding":{
        "shape":{"field":"s","type":"nominal","scale":{"domain":["2.0","1.4","0.5","0.2","0.0"],"range":["M20,0H31.4M25.1,0A0.6,0.6,0,1,1,26.3,0A0.6,0.6,0,1,1,25.1,0Z","M20,0H31.4M25,-0.7H26.4V0.7H25Z","M20,0H31.4M25.7,-0.8L26.5,0.6H24.9Z","M20,0H31.4M25.7,-0.7L26.4,0L25.7,0.7L25,0Z","M20,0H31.4"]},
         "legend":{"orient":"none","legendX":274,"legendY":79,"title":null,"labelExpr":"datum.label == '2.0' ? 'T/J = 2.0' : datum.label","labelAlign":"right","labelOffset":87,"symbolSize":100,"symbolStrokeWidth":1.3,"padding":0,"rowPadding":-0.6}},
        "fill":{"field":"s","type":"nominal","legend":{"orient":"none","legendX":274,"legendY":79,"title":null,"labelExpr":"datum.label == '2.0' ? 'T/J = 2.0' : datum.label","labelAlign":"right","labelOffset":87,"symbolSize":100,"symbolStrokeWidth":1.3,"padding":0,"rowPadding":-0.6}},
        "stroke":{"field":"s","type":"nominal","legend":{"orient":"none","legendX":274,"legendY":79,"title":null,"labelExpr":"datum.label == '2.0' ? 'T/J = 2.0' : datum.label","labelAlign":"right","labelOffset":87,"symbolSize":100,"symbolStrokeWidth":1.3,"padding":0,"rowPadding":-0.6}}}},
      {"data":{"values":[{}]},"mark":{"type":"rule","color":"#a000a0","strokeWidth":2},
       "encoding":{"x":{"datum":-10.3},"x2":{"datum":-8.3},"y":{"datum":-0.3333}}},
      {"data":{"values":[{}]},"mark":{"type":"point","shape":"M-1,-0.45L0,0L-1,0.45L-0.8,0Z","filled":true,"opacity":1,"color":"#a000a0","size":500},
       "encoding":{"x":{"datum":-8.1},"y":{"datum":-0.3333}}},
      {"data":{"values":[{}]},"mark":{"type":"rule","color":"#a000a0","strokeWidth":2},
       "encoding":{"x":{"datum":10.27},"x2":{"datum":8.3},"y":{"datum":0.3333}}},
      {"data":{"values":[{}]},"mark":{"type":"point","shape":"M1,-0.45L0,0L1,0.45L0.8,0Z","filled":true,"opacity":1,"color":"#a000a0","size":500},
       "encoding":{"x":{"datum":8.1},"y":{"datum":0.3333}}},
      {"data":{"values":[{}]},"mark":{"type":"text","text":"−1/3","fontSize":20,"align":"right","baseline":"middle"},
       "encoding":{"x":{"datum":-10.45},"y":{"datum":-0.3333}}},
      {"data":{"values":[{}]},"mark":{"type":"text","text":"1/3","fontSize":20,"align":"left","baseline":"middle"},
       "encoding":{"x":{"datum":10.4},"y":{"datum":0.3333}}},
      {"data":{"values":[{}]},"mark":{"type":"text","text":"(b)","fontSize":22,"align":"center","baseline":"middle"},
       "encoding":{"x":{"datum":-12.01},"y":{"datum":1.153}}}
     ]},
     {"data":{"name":"cz"},"mark":{"type":"point","opacity":0},
      "encoding":{
       "x":{"field":"h","type":"quantitative","scale":{"domain":[-10,10],"nice":false},"axis":{"orient":"top","values":[-8,-6,-4,-2,0,2,4,6,8],"labels":false,"title":null}},
       "y":{"field":"T","type":"quantitative","scale":{"domain":[-1.2,1.2],"nice":false},"axis":{"orient":"right","values":[-1,-0.5,0,0.5,1],"labels":false,"title":null}}}}
    ],
    "resolve":{"axis":{"x":"independent","y":"independent"}}
   },
   {
    "width":458,"height":171,
    "layer":[
     {"layer":[
      {"data":{"name":"cb"},"mark":{"type":"area","color":"#fdf1c2"},
       "encoding":{
        "x":{"field":"h","type":"quantitative","scale":{"domain":[-10,10],"nice":false},"axis":{"orient":"bottom","values":[-10,-8,-6,-4,-2,0,2,4,6,8,10],"format":"d","title":"h/J","titleX":229,"titleY":41,"titleAlign":"center","titleBaseline":"middle","titleFontSize":24}},
        "y":{"field":"T","type":"quantitative","scale":{"domain":[0,3],"nice":false},"axis":{"orient":"left","values":[0,1,2,3],"format":"d","title":"T/J","titleX":-40,"titleY":87,"titleAlign":"center","titleBaseline":"middle","titleAngle":-90,"titleFontSize":24}}}},
      {"data":{"name":"cb"},"mark":{"type":"line","color":"#ff6000","strokeWidth":2},
       "encoding":{"x":{"field":"h","type":"quantitative"},"y":{"field":"T","type":"quantitative"}}},
      {"data":{"name":"cm"},"mark":{"type":"point","shape":"diamond","filled":true,"opacity":1,"size":30,"fill":"#f5c020","stroke":"black","strokeWidth":1},
       "encoding":{"x":{"field":"h","type":"quantitative"},"y":{"field":"T","type":"quantitative"}}},
      {"data":{"name":"cz"},"mark":{"type":"point","shape":"circle","filled":true,"opacity":1,"size":30,"color":"black"},
       "encoding":{"x":{"field":"h","type":"quantitative"},"y":{"field":"T","type":"quantitative"}}},
      {"data":{"values":[{}]},"mark":{"type":"text","text":"paramagnetic","font":"Open Sans","fontSize":22,"align":"center","baseline":"middle"},
       "encoding":{"x":{"datum":0},"y":{"datum":2.45}}},
      {"data":{"values":[{}]},"mark":{"type":"text","text":"PDAF","font":"Open Sans","fontSize":31,"align":"center","baseline":"middle"},
       "encoding":{"x":{"datum":-4.03},"y":{"datum":0.69}}},
      {"data":{"values":[{}]},"mark":{"type":"text","text":"PDAF","font":"Open Sans","fontSize":31,"align":"center","baseline":"middle"},
       "encoding":{"x":{"datum":4.03},"y":{"datum":0.69}}},
      {"data":{"values":[{}]},"mark":{"type":"text","text":"(c)","fontSize":22,"align":"center","baseline":"middle"},
       "encoding":{"x":{"datum":-12.01},"y":{"datum":2.754}}}
     ]},
     {"data":{"name":"cz"},"mark":{"type":"point","opacity":0},
      "encoding":{
       "x":{"field":"h","type":"quantitative","scale":{"domain":[-10,10],"nice":false},"axis":{"orient":"top","values":[-8,-6,-4,-2,0,2,4,6,8],"labels":false,"title":null}},
       "y":{"field":"T","type":"quantitative","scale":{"domain":[0,3],"nice":false},"axis":{"orient":"right","values":[1,2],"labels":false,"title":null}}}}
    ],
    "resolve":{"axis":{"x":"independent","y":"independent"}}
   }
  ],
  "spacing":0,"bounds":"flush",
  "resolve":{"scale":{"stroke":"independent","fill":"independent","shape":"independent"},"legend":{"stroke":"independent","fill":"independent","shape":"independent"}}
 }
],
"spacing":0,
"resolve":{"scale":{"stroke":"independent","fill":"independent","shape":"independent"},"legend":{"stroke":"independent","fill":"independent","shape":"independent"}}
}
